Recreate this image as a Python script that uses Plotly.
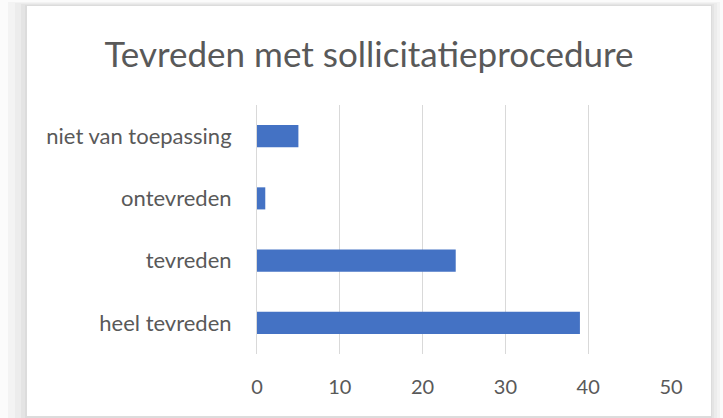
import plotly.graph_objects as go

categories = ["heel tevreden", "tevreden", "ontevreden", "niet van toepassing"]
values = [39, 24, 1, 5]
x_ticks = [0, 10, 20, 30, 40, 50]
title_text = "Tevreden met sollicitatieprocedure"

W, H = 723, 418
ML, MR, MT, MB = 257, 52, 105, 64
PW, PH = W - ML - MR, H - MT - MB

def px(x):
    return (x - ML) / PW

def py(y):
    return (H - MB - y) / PH

FONT = "Lato"
TXT = "#595959"
GRID = "#d9d9d9"

fig = go.Figure(go.Bar(
    x=values, y=categories, orientation="h",
    marker=dict(color="#4472C4", line=dict(width=0)),
    hoverinfo="x+y",
))

# shadow / frame
shapes = []
frame = [
    (0, 0, 723, 418, "#fbfbfb"),
    (8, 2, 720, 418, "#f3f3f3"),
    (15, 3, 717, 418, "#ececec"),
    (21, 4, 714, 418, "#e4e4e4"),
    (25, 5, 712, 418, "#dcdcdc"),
    (27, 6, 711, 416, "#ffffff"),
]
for x0, y0, x1, y1, c in frame:
    shapes.append(dict(type="rect", xref="paper", yref="paper", layer="below",
                       x0=px(x0), x1=px(x1), y0=py(y1), y1=py(y0),
                       fillcolor=c, line=dict(width=0)))

fig.update_layout(
    width=W, height=H,
    margin=dict(l=ML, r=MR, t=MT, b=MB),
    paper_bgcolor="white",
    plot_bgcolor="rgba(0,0,0,0)",
    font=dict(family=FONT, color=TXT, size=20),
    title=dict(text=title_text, x=369 / W, xanchor="center", xref="container",
               y=1 - 55 / H, yanchor="middle", yref="container",
               font=dict(family=FONT, size=35, color=TXT)),
    bargap=0.645,
    showlegend=False,
    shapes=shapes,
    xaxis=dict(range=[0, 50], tickvals=x_ticks, showgrid=True, gridcolor=GRID,
               gridwidth=1, zeroline=False, showline=False,
               ticks="outside", ticklen=15, tickcolor="rgba(0,0,0,0)",
               tickfont=dict(size=20, color=TXT, family=FONT), fixedrange=True),
    yaxis=dict(categoryorder="array", categoryarray=categories, showgrid=False,
               zeroline=False, showline=True, linecolor=GRID, linewidth=1,
               ticks="outside", ticklen=20, tickcolor="rgba(0,0,0,0)",
               tickfont=dict(size=22, color=TXT, family=FONT), fixedrange=True),
)

fig.write_html("out.html", config={"displayModeBar": False},
               post_script="document.body.style.margin='0px';document.body.style.overflow='hidden';")
